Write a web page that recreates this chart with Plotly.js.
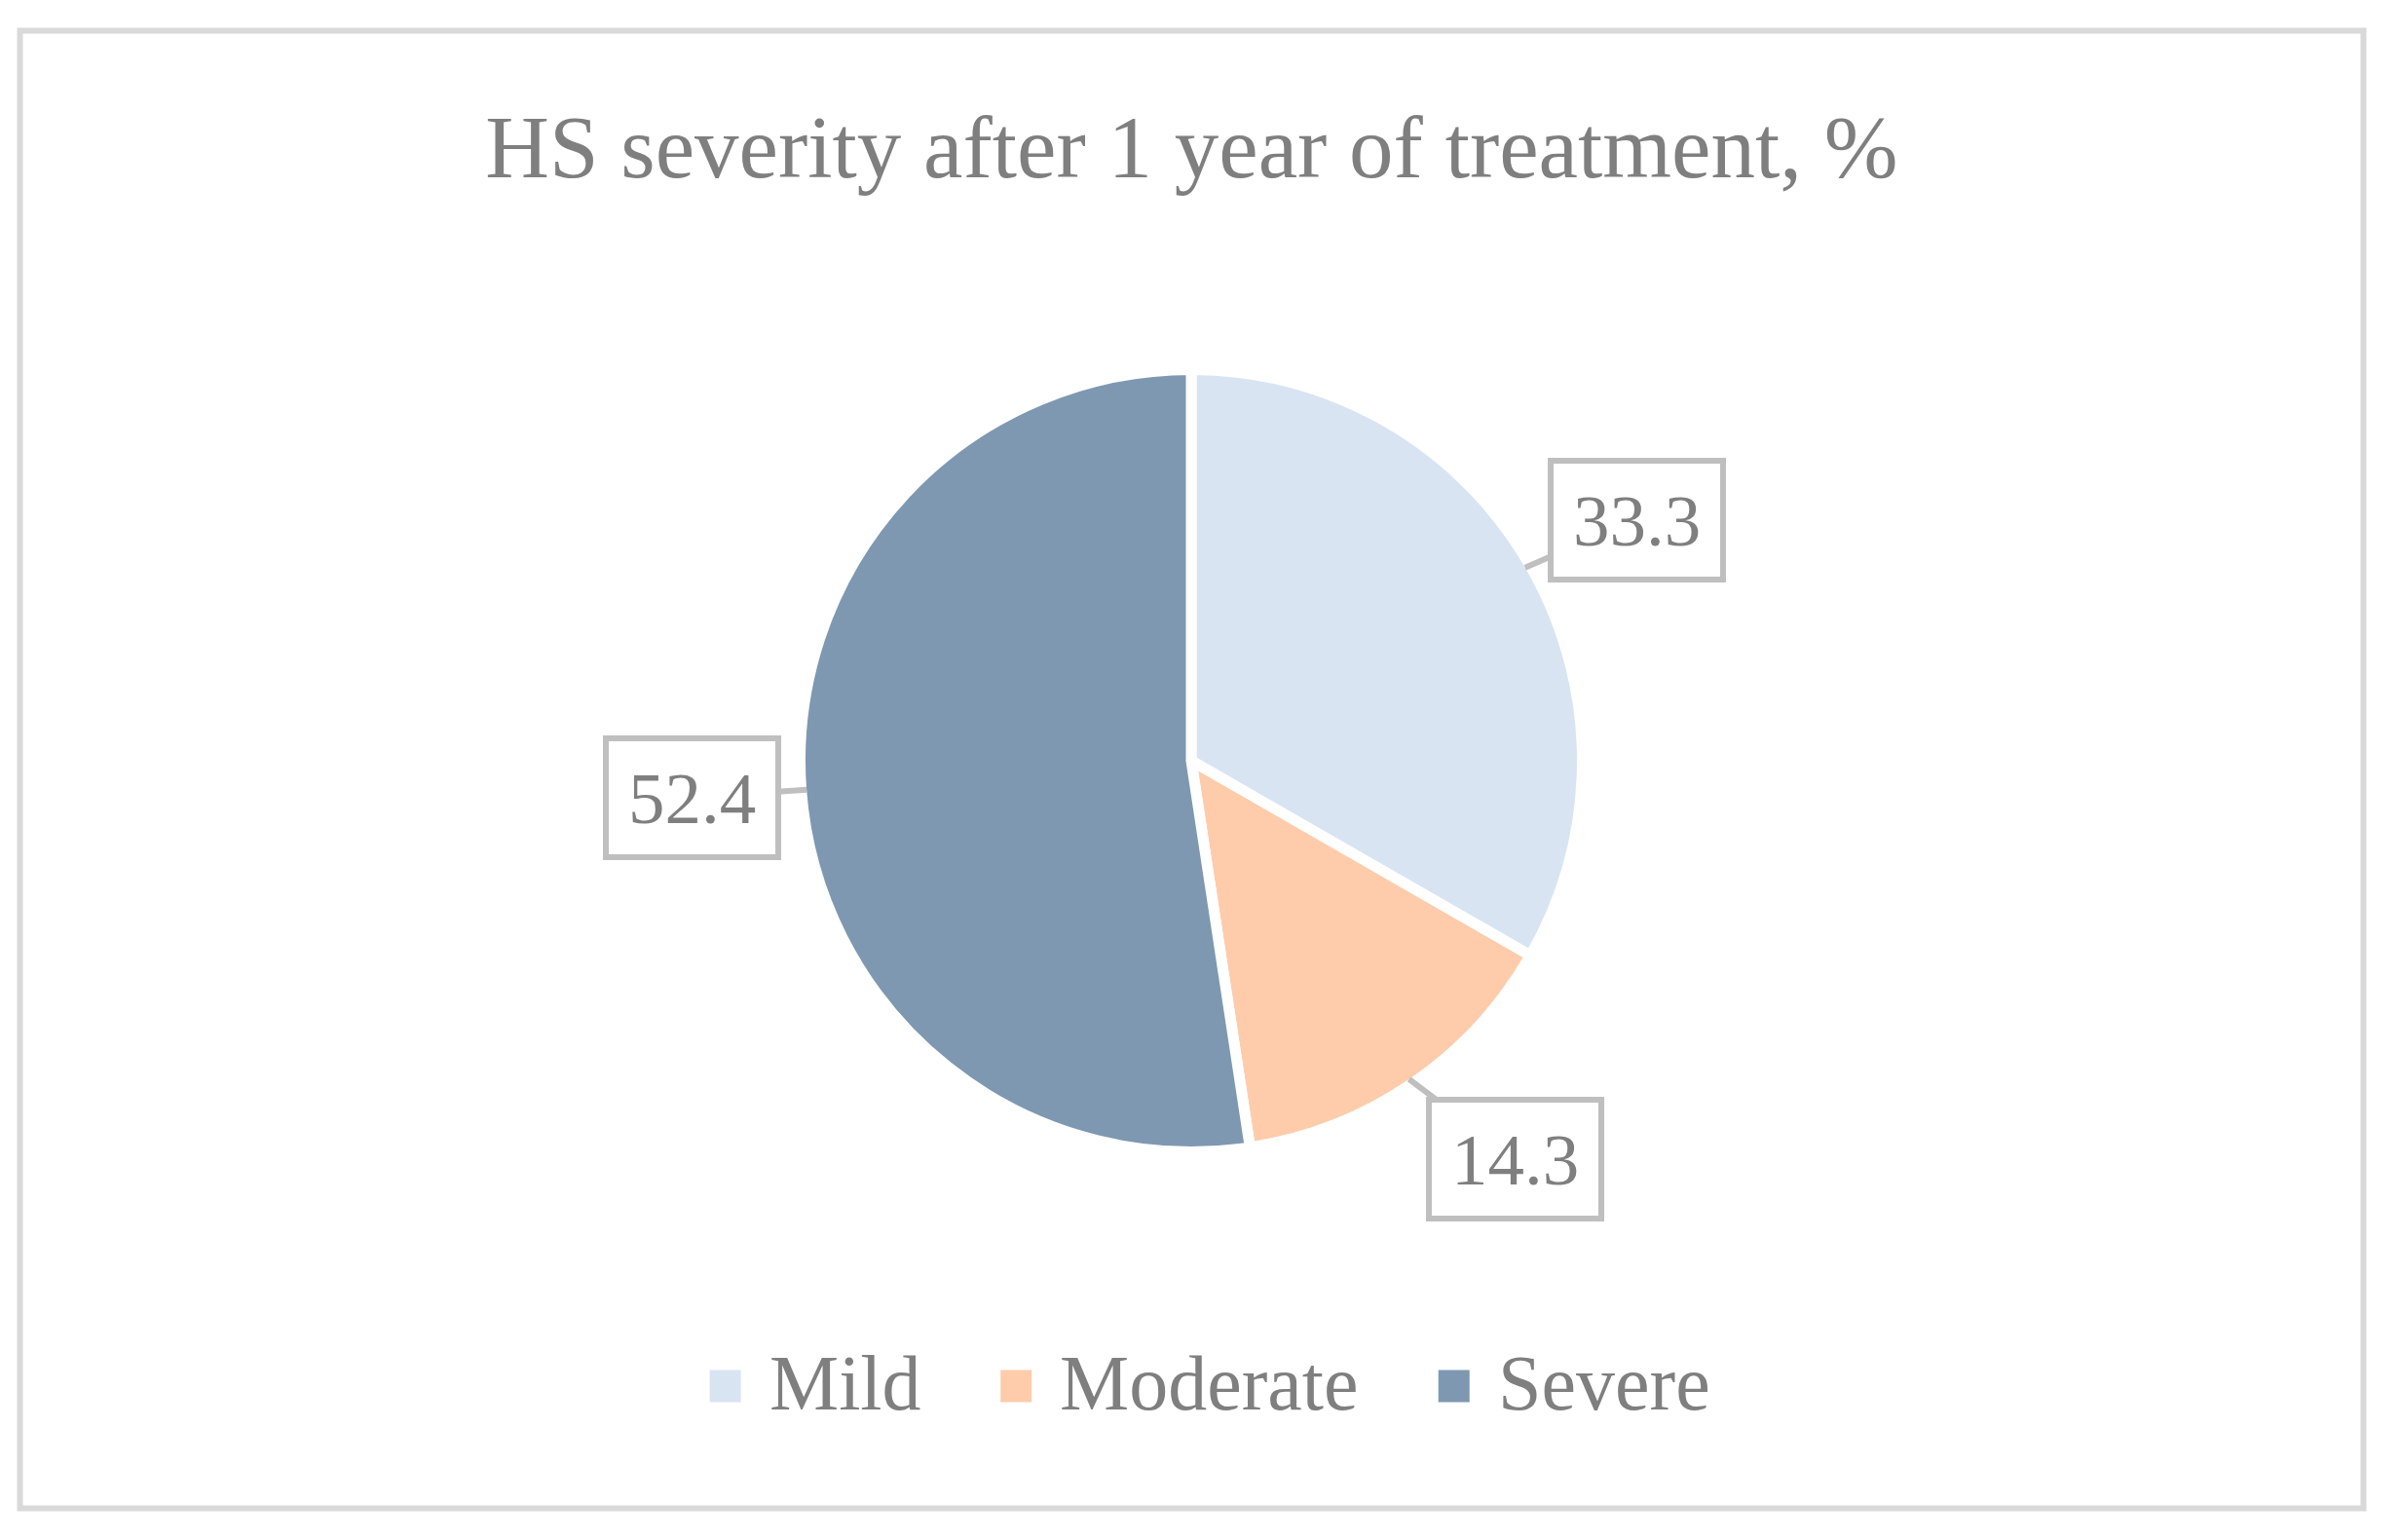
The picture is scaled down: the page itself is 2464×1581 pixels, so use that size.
<!DOCTYPE html>
<html>
<head>
<meta charset="utf-8">
<script src="https://cdn.plot.ly/plotly-3.0.1.min.js"></script>
<style>html,body{margin:0;padding:0;background:#fff;}#chart{width:2464px;height:1581px;}</style>
</head>
<body>
<div id="chart"></div>
<script>
// ---- data ----
const categories = ["Mild", "Moderate", "Severe"];
const values = [33.3, 14.3, 52.4];
const colors = ["#D9E4F3", "#FECCAB", "#7E98B1"];
const chartTitle = "HS severity after 1 year of treatment, %";

// ---- layout constants ----
const W = 2464, H = 1581;
const FONT = '"Liberation Serif", "Times New Roman", serif';
const TEXT_COLOR = "#7f7f7f";
const cx = 1223, cy = 781;          // pie centre (px from top-left)
const sepWidth = 11;                 // white separator width
const rVis = 396;                    // visible radius
const rPath = rVis + sepWidth / 2;   // radius of pie path
// label callout offsets (px) from the slice edge point
const labelOffsets = [[115, -49], [109, 82], [-118, 8]];

const pie = {
  type: "pie",
  labels: categories,
  values: values,
  sort: false,
  direction: "clockwise",
  rotation: 0,
  textinfo: "none",
  hoverinfo: "label+value",
  showlegend: false,
  marker: { colors: colors, line: { color: "#ffffff", width: sepWidth } },
  domain: {
    x: [(cx - rPath) / W, (cx + rPath) / W],
    y: [(H - cy - rPath) / H, (H - cy + rPath) / H]
  }
};

// ---- callout labels at each slice's mid-angle ----
const total = values.reduce((a, b) => a + b, 0);
let cum = 0;
const annotations = values.map((v, i) => {
  const mid = (cum + v / 2) / total * 2 * Math.PI;
  cum += v;
  const px = cx + rVis * Math.sin(mid);
  const py = cy - rVis * Math.cos(mid);
  return {
    x: px / W, y: 1 - py / H, xref: "paper", yref: "paper",
    text: v.toFixed(1),
    showarrow: true, arrowhead: 0, arrowwidth: 6, arrowcolor: "#bfbfbf",
    ax: labelOffsets[i][0], ay: labelOffsets[i][1],
    width: 171, height: 116, borderpad: 0,
    bordercolor: "#bfbfbf", borderwidth: 6, bgcolor: "#ffffff",
    font: { family: FONT, size: 75, color: TEXT_COLOR },
    align: "center", valign: "middle"
  };
});

// ---- legend (squares + text), centred under chart ----
const legFont = 80;
const ctx = document.createElement("canvas").getContext("2d");
ctx.font = legFont + 'px "Liberation Serif"';
const tw = categories.map(c => ctx.measureText(c).width);
const sw = 32, gapText = 27, gapItem = 84;
const legW = tw.reduce((a, w) => a + sw + gapText + w, 0) + gapItem * (categories.length - 1);
const legCenter = 1241, legY = 1423;
let lx = legCenter - legW / 2;
const shapes = [{
  type: "rect", xref: "paper", yref: "paper",
  x0: 20.5 / W, x1: 2426.5 / W, y0: 1 - 1548.5 / H, y1: 1 - 31.5 / H,
  line: { color: "#d9d9d9", width: 6 }, fillcolor: "rgba(0,0,0,0)", layer: "below"
}];
categories.forEach((c, i) => {
  shapes.push({
    type: "rect", xref: "paper", yref: "paper",
    x0: lx / W, x1: (lx + sw) / W, y0: 1 - (legY + 16.5) / H, y1: 1 - (legY - 16.5) / H,
    fillcolor: colors[i], line: { width: 0 }
  });
  annotations.push({
    x: (lx + sw + gapText) / W, y: 1 - (legY - 3) / H, xref: "paper", yref: "paper",
    xanchor: "left", yanchor: "middle", showarrow: false, text: c,
    font: { family: FONT, size: legFont, color: TEXT_COLOR }
  });
  lx += sw + gapText + tw[i] + gapItem;
});

const layout = {
  width: W, height: H,
  margin: { l: 0, r: 0, t: 0, b: 0 },
  paper_bgcolor: "#ffffff",
  title: {
    text: chartTitle, x: 0.4965, xanchor: "center", y: 1 - 150 / H, yanchor: "middle",
    yref: "container", font: { family: FONT, size: 91, color: TEXT_COLOR }
  },
  showlegend: false,
  shapes: shapes,
  annotations: annotations
};

Plotly.newPlot("chart", [pie], layout, { displayModeBar: false, staticPlot: true });
</script>
</body>
</html>
